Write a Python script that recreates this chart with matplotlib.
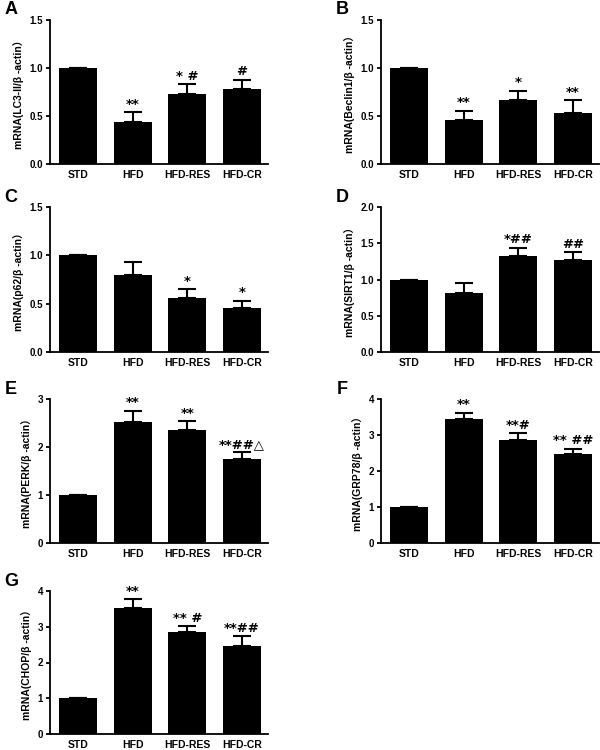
import numpy as np
import matplotlib
matplotlib.use('Agg')
import matplotlib.pyplot as plt

plt.rcParams['font.family'] = ['Liberation Sans', 'DejaVu Sans', 'Noto Sans CJK SC']
plt.rcParams['font.weight'] = 'bold'

groups = ['STD', 'HFD', 'HFD-RES', 'HFD-CR']

# mean values and upper error (SD)
lc3_mean = [1.0, 0.44, 0.73, 0.78]
lc3_err = [0.0, 0.10, 0.10, 0.10]
lc3_sig = ['', '**', '* #', '#']

beclin_mean = [1.0, 0.46, 0.665, 0.535]
beclin_err = [0.0, 0.095, 0.10, 0.13]
beclin_sig = ['', '**', '*', '**']

p62_mean = [1.0, 0.80, 0.56, 0.46]
p62_err = [0.0, 0.13, 0.09, 0.07]
p62_sig = ['', '', '*', '*']

sirt1_mean = [1.0, 0.81, 1.32, 1.265]
sirt1_err = [0.0, 0.14, 0.12, 0.11]
sirt1_sig = ['', '', '*##', '##']

perk_mean = [1.0, 2.53, 2.35, 1.75]
perk_err = [0.0, 0.23, 0.19, 0.14]
perk_sig = ['', '**', '**', '**##△']

grp78_mean = [1.0, 3.44, 2.86, 2.46]
grp78_err = [0.0, 0.18, 0.19, 0.16]
grp78_sig = ['', '**', '**#', '** ##']

chop_mean = [1.0, 3.52, 2.86, 2.46]
chop_err = [0.0, 0.25, 0.15, 0.28]
chop_sig = ['', '**', '** #', '**##']

panels = [
    ('A', 'mRNA(LC3-II/β -actin）', lc3_mean, lc3_err, lc3_sig, [0, 1.5], [0.0, 0.5, 1.0, 1.5], '%.1f'),
    ('B', 'mRNA(Beclin1/β -actin）', beclin_mean, beclin_err, beclin_sig, [0, 1.5], [0.0, 0.5, 1.0, 1.5], '%.1f'),
    ('C', 'mRNA(p62/β -actin）', p62_mean, p62_err, p62_sig, [0, 1.5], [0.0, 0.5, 1.0, 1.5], '%.1f'),
    ('D', 'mRNA(SIRT1/β -actin）', sirt1_mean, sirt1_err, sirt1_sig, [0, 2.0], [0.0, 0.5, 1.0, 1.5, 2.0], '%.1f'),
    ('E', 'mRNA(PERK/β -actin）', perk_mean, perk_err, perk_sig, [0, 3], [0, 1, 2, 3], '%d'),
    ('F', 'mRNA(GRP78/β -actin）', grp78_mean, grp78_err, grp78_sig, [0, 4], [0, 1, 2, 3, 4], '%d'),
    ('G', 'mRNA(CHOP/β -actin）', chop_mean, chop_err, chop_sig, [0, 4], [0, 1, 2, 3, 4], '%d'),
]

# axes boxes in pixels: left, top, bottom
W, H = 600, 750
boxes = [(50, 20, 164), (381, 20, 164),
         (50, 207, 352), (381, 207, 352),
         (50, 399, 543), (381, 399, 543),
         (50, 591, 734)]
ax_w = 218

fig = plt.figure(figsize=(6, 7.5), dpi=100)
x = np.arange(len(groups))

for (letter, ylab, mean, err, sig, ylim, yticks, fmt), (l, t, b) in zip(panels, boxes):
    ax = fig.add_axes([l / W, 1 - b / H, ax_w / W, (b - t) / H])
    ax.bar(x, mean, width=0.7, color='black', zorder=2)
    ax.errorbar(x, mean, yerr=[np.zeros(len(mean)), err], fmt='none',
                ecolor='black', elinewidth=1.5, capsize=6.5, capthick=1.5, zorder=1)
    ax.set_xlim(-0.52, 3.48)
    ax.set_ylim(ylim)
    ax.set_yticks(yticks)
    ax.set_yticklabels([fmt % v for v in yticks])
    ax.set_xticks(x)
    ax.set_xticklabels(groups)
    ax.spines['top'].set_visible(False)
    ax.spines['right'].set_visible(False)
    ax.spines['left'].set_linewidth(1.3)
    ax.spines['bottom'].set_linewidth(1.3)
    ax.tick_params(axis='y', direction='out', length=3, width=1.3, labelsize=7, pad=2)
    ax.tick_params(axis='x', length=0, labelsize=7.5, pad=4)
    for lab in ax.get_xticklabels() + ax.get_yticklabels():
        lab.set_fontweight('bold')
    ax.set_ylabel(ylab, fontsize=7.5, fontweight='bold', labelpad=4)
    for xi, m, e, s in zip(x, mean, err, sig):
        if s:
            ax.text(xi, m + e + (ylim[1] * 0.01), s, ha='center', va='bottom',
                    fontsize=9.5, fontweight='bold', family=['DejaVu Sans'])
    fig.text((l - 39) / W, 1 - (t - 10) / H, letter, fontsize=13, fontweight='bold',
             ha='center', va='center')

fig.savefig('out.png', dpi=100)
